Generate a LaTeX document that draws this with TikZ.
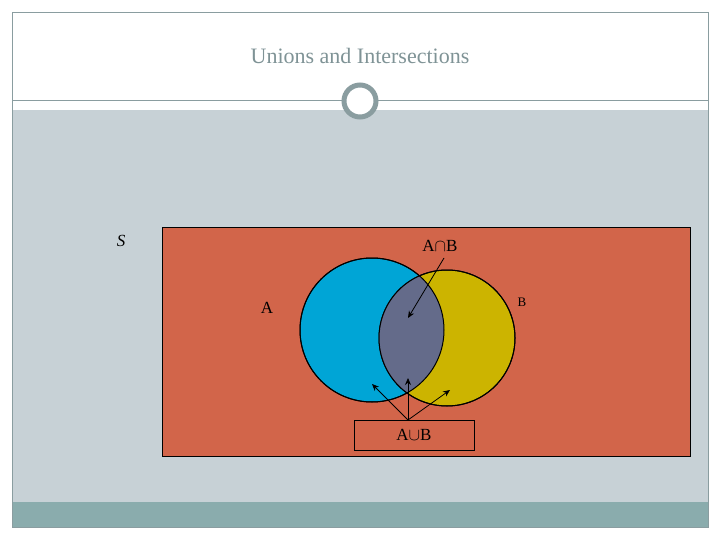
\documentclass[tikz,border=0pt]{standalone}
\usepackage{fontspec}
\setmainfont{Liberation Serif}
\usetikzlibrary{arrows.meta}
\definecolor{frame}{HTML}{8A9DA0}
\definecolor{body}{HTML}{C7D1D6}
\definecolor{bar}{HTML}{8AACAD}
\definecolor{uni}{HTML}{D2654A}
\definecolor{ca}{HTML}{00A5D6}
\definecolor{cb}{HTML}{CCB400}
\definecolor{cab}{HTML}{646B8A}
\definecolor{ttl}{HTML}{7F9396}
\tikzset{arr/.style={thick,-{Stealth[length=7pt,width=6pt]}},lbl/.style={font=\fontsize{17}{17}\selectfont}}
\begin{document}
\begin{tikzpicture}[x=1pt,y=-1pt]
\useasboundingbox (0,0) rectangle (720,540);
\fill[white] (0,0) rectangle (720,540);
\fill[body] (12,110) rectangle (708,502);
\fill[bar] (12,502) rectangle (708,527);
\draw[frame,line width=0.8pt] (12,12) rectangle (708,527);
\draw[frame,line width=0.8pt] (12,100) -- (708,100);
\node[text=ttl,font=\fontsize{22}{22}\selectfont] (title) at (360,56) {Unions and Intersections};
\draw[frame,line width=5pt,fill=white] (360,101) circle (16);
\draw[line width=1pt,fill=uni] (162,228) rectangle (690,456);
\node[lbl,font=\fontsize{17}{17}\selectfont\itshape] (s) at (121,241) {S};
\draw[fill=ca,line width=1pt] (372,330) circle (72);
\draw[fill=cb,line width=1pt] (447,338) circle (68);
\begin{scope}
\clip (372,330) circle (72);
\fill[cab] (447,338) circle (68);
\end{scope}
\draw[line width=1pt] (372,330) circle (72);
\draw[line width=1pt] (447,338) circle (68);
\node[lbl] (a) at (267,308) {A};
\node[font=\fontsize{13}{13}\selectfont] (b) at (522,302) {B};
\node[lbl] (ab) at (440,246) {A$\cap$B};
\coordinate (in) at (408,318);
\draw[arr] (444,258) -- (in);
\node[draw,line width=1pt,minimum width=120pt,minimum height=30pt,lbl] (u) at (414,435) {A$\cup$B};
\coordinate (o) at (408,420);
\coordinate (p1) at (372,384);
\coordinate (p2) at (408,378);
\coordinate (p3) at (450,390);
\draw[arr] (o) -- (p1);
\draw[arr] (o) -- (p2);
\draw[arr] (o) -- (p3);
\end{tikzpicture}
\end{document}
